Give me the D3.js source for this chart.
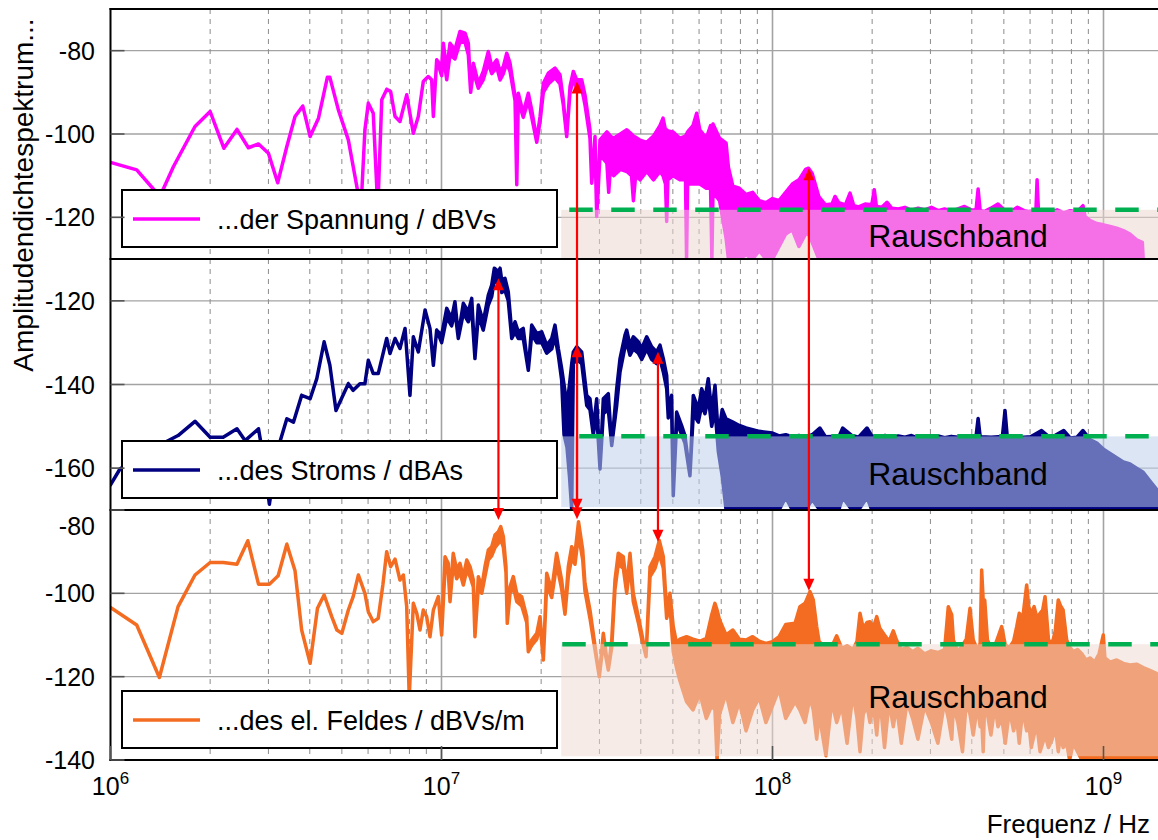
<!DOCTYPE html>
<html>
<head>
<meta charset="utf-8">
<script src="https://cdn.jsdelivr.net/npm/d3@7"></script>
<style>
  body { margin: 0; background: #fff; }
  svg { display: block; }
  text { font-family: "Liberation Sans", Arial, sans-serif; fill: #000; }
</style>
</head>
<body>
<svg id="chart" width="1158" height="840"></svg>
<script>
// ---- data -------------------------------------------------------------
// Rows: [frequency in MHz, upper value in dB, lower value in dB (optional)].
// Where the spectrum is dense, the two values give the envelope of the trace.

const spannung = [
  [1.00,-106.8],[1.20,-108.6],[1.41,-115],[1.55,-107.8],[1.80,-98.2],[2.00,-94.6],[2.20,-103.4],
  [2.41,-98.9],[2.61,-103.3],[2.80,-102.4],[3.00,-104.6],[3.20,-111.7],[3.41,-103],[3.61,-95.8],
  [3.81,-93.3],[4.01,-100.6],[4.25,-96.2],[4.52,-86.4],[4.60,-86.4],[4.88,-94.2],[5.23,-101.4],
  [5.71,-118],[5.87,-99],[6.01,-92.6],[6.22,-95],[6.42,-118],[6.60,-91.8],[6.83,-89.3],[7.02,-89.8],
  [7.24,-95.8],[7.49,-97],[7.85,-90.6],[8.22,-99.8],[8.51,-95.8],[8.81,-87.4],[9.12,-86.2],[9.34,-87],
  [9.45,-95.8],[9.67,-82.2],
  [10.01,-83.8,-86],[10.13,-78.2,-81],[10.37,-84.6,-87],[10.61,-78.2,-81],[10.98,-79.8,-82],
  [11.37,-75.4,-78],[11.78,-75.8,-78],[12.05,-78.2,-81],[12.25,-89,-90],[12.48,-83,-85],
  [12.92,-87.8,-89],[13.37,-85,-87],[13.85,-80.2,-83],[14.18,-83.8,-85.5],[14.69,-82.2,-84],
  [15.03,-85,-87],[15.38,-83.8,-85.5],[15.74,-80.6,-83],[16.11,-83,-85],[16.68,-91,-92],
  [16.88,-112.2],[17.06,-90.2,-92],[17.66,-95,-96],[18.29,-90.2,-92],[18.73,-94.2,-96],
  [19.40,-101.4,-102],[19.85,-95.8,-97],[20.31,-87.8,-90],[21.02,-85.4,-88],[22.02,-84.2,-86.5],
  [22.80,-85.8,-88],[23.33,-91.8,-93],[23.89,-100.6],[24.45,-88.6,-90],[25.02,-85,-87],
  [25.62,-87,-89],[26.52,-87,-89],[27.13,-90.6,-93],[28.09,-99,-101],[28.43,-111.8],
  [29.09,-100.6,-103],[29.44,-119.8],[30.12,-101.4,-105],
  [31.6,-99.5,-107],[32.0,-100,-114],[32.4,-100.5,-108],[33.1,-101,-110],[34.7,-100,-108.5],
  [36.3,-99,-109],[37.5,-100,-110],[38.0,-100.5,-116],[38.6,-100.8,-110],[39.8,-101.5,-111],
  [41.7,-102,-109],[43.7,-100.5,-111],[45.7,-98,-109],[46.7,-96.2,-110],[47.5,-99,-112],
  [47.9,-99,-121],[48.3,-99.3,-111],[50.1,-99.5,-110],[52.5,-101,-111],[54.6,-100.5,-111],
  [55.0,-100,-130],[55.4,-99.5,-112],[57.5,-98,-112],[59.0,-95,-112],[60.3,-99,-112],
  [63.1,-101,-113],[65.0,-98,-113],[65.6,-98.5,-130],[66.1,-97.6,-114],[69.2,-101,-116],
  [72.4,-102.2,-125],[73.6,-108,-130],[75.9,-112.5,-130],[79.4,-113,-130],[83.2,-114.5,-129],[87.1,-114,-130],
  [91.2,-116,-128],[95.5,-116.5,-130],[100,-115.5,-130],[104.7,-116,-127],[109.6,-114,-124],
  [114.8,-112,-123],[120.2,-111,-127],[125.9,-108.5,-124],[128.5,-108.2,-124],[131.8,-109.5,-126],
  [138,-115,-130],[144.5,-117,-130],[151.4,-116.8,-130],[154.5,-115,-130],[158.5,-116.5,-130],
  [166,-117,-130],[171.5,-114.2,-130],[176,-117.2,-130],[182,-117.5,-130],[190.5,-116.8,-130],
  [199.5,-117,-130],[203,-113.4,-130],[206,-117.4,-130],[214,-117.6,-130],[221.8,-116.4,-130],
  [229.1,-117.8,-130],[239.9,-118,-130],[251.2,-117.6,-130],[263,-118.3,-130],[275.4,-117.8,-130],
  [288.4,-118.2,-130],[302,-117.6,-130],[316.2,-118.4,-130],[331.1,-118,-130],[346.7,-118.5,-130],
  [363.1,-118,-130],[380.2,-117.4,-130],[398.1,-118.2,-130],[412,-118.3,-130],[418,-113.2,-130],
  [424,-118.4,-130],[436.5,-118.6,-130],[457.1,-117.8,-130],[480,-116.8,-130],[501.2,-118.2,-130],
  [524.8,-118.6,-130],[549.5,-117.6,-130],[575.4,-118.4,-130],[602.6,-118.7,-130],[625,-118.3,-130],
  [630,-111,-130],[636,-118.5,-130],[660.7,-118.5,-130],[691.8,-118.8,-130],[724.4,-118.2,-130],
  [758.6,-118.9,-130],[794.3,-118.4,-130],[831.8,-118.7,-130],[867,-117.2,-130],[880,-119.8,-130],
  [912,-120.8,-130],[955,-121.5,-130],[1000,-121.8,-130],[1047,-122.2,-130],[1096,-122.6,-130],
  [1148,-123.2,-130],[1202,-124,-130],[1259,-125.4,-130],[1310,-126,-130],[1318,-130,-130]
];

const strom = [
  [1.00,-164],[1.068,-160.2],[1.27,-156.3],[1.60,-152.2],[1.80,-148.8],[2.00,-152.6],[2.19,-152.6],
  [2.41,-150.6],[2.55,-153.4],[2.80,-150.6],[2.89,-157],[3.02,-168.6],[3.18,-156.2],[3.41,-148.2],
  [3.57,-149],[3.78,-142.6],[4.01,-143.4],[4.20,-138.6],[4.42,-129.8],[4.60,-135.4],[4.80,-146.2],
  [5.23,-139.8],[5.41,-141.4],[5.67,-139.8],[5.87,-139.8],[6.01,-134.2],[6.22,-137.4],[6.44,-137.4],
  [6.83,-129],[6.99,-132.6],[7.24,-129],[7.49,-131.4],[7.76,-126.6],[8.03,-142.6],[8.22,-128.6],
  [8.51,-132.2],[8.92,-122.2],[9.23,-126.6],[9.45,-135.4],[9.67,-127],
  [10.01,-128.2,-130],[10.37,-121.8,-124],[10.73,-124.2,-126],[10.98,-120.2,-122.5],[11.24,-128.2,-129],
  [11.64,-120.6,-123],[12.05,-122.6,-125],[12.34,-119.4,-122],[12.62,-133.8],[12.92,-121,-123.5],
  [13.37,-125,-127],[13.85,-118.6,-121],[14.18,-116.2,-119],[14.44,-112.2,-115],[14.85,-113,-116],
  [15.03,-112.2,-115],[15.20,-115,-118],[15.55,-114.6,-117.5],[15.91,-117.8,-120],[16.30,-127.4,-129],
  [16.68,-125,-127.5],[17.06,-127.4,-129],[17.66,-126.6,-129],[18.29,-136.6],[18.73,-125.8,-128],
  [19.40,-127.8,-130],[20.08,-127.4,-130],[20.79,-130.6,-132.5],[21.53,-129,-131.5],[22.02,-125.8,-128.5],
  [22.54,-131.4,-133],[23.07,-136.2,-139],[23.45,-140,-152],[23.94,-145,-155],[24.36,-140,-162],
  [24.74,-135,-170],[25.02,-132.2,-135],[25.62,-131,-134],[26.52,-132.2,-135],[27.46,-142.6,-145],
  [28.09,-143.4,-146],[28.74,-150.6,-152],[29.44,-143.4,-147],[30.12,-160.2],[30.82,-143.4,-147],
  [31.91,-142.2,-146],[32.68,-154.6],[33.83,-141,-145],[34.62,-133.8,-137],[35.84,-128.2,-131],
  [36.27,-127,-130],[37.11,-130.6,-133],[37.97,-128.6,-131.5],[39.32,-129.8,-132.5],[40.26,-131.4,-134],
  [41.69,-128.6,-131.5],[43.15,-131,-134],[44.67,-132.2,-135],[45.72,-130.6,-134],[46.79,-133.8,-137],
  [47.89,-137.8,-141],[48.43,-145.8,-148],[49.58,-142.6,-146],[50.14,-166.6],[51.33,-146.6,-149],
  [53.15,-149.8,-152],[54.38,-152.2,-154],[56.31,-161.8],[57.64,-142.6,-147],[59.68,-145.8,-149],
  [61.11,-141,-145],[62.53,-143.4,-147],[63.97,-138.6,-143],[65.51,-146.6,-150],[67.04,-140.2,-146],
  [68.60,-152.2,-156],[70.5,-146,-162],[72.4,-148.2,-170],[75.9,-149,-170],[79.4,-149.8,-170],
  [83.2,-150.4,-170],[87.1,-150.8,-170],[91.2,-151.2,-170],[95.5,-151.4,-170],[100,-151.6,-170],
  [104.7,-152.3,-170],[109.6,-152,-167],[114.8,-152.5,-170],[120.2,-152.2,-170],[125.9,-152.6,-170],
  [131.8,-152,-167.5],[139,-150.4,-170],[144.5,-152.5,-170],[151.4,-152.4,-170],[158.5,-152.6,-170],
  [163,-150.4,-167],[173.8,-152.2,-170],[182,-152.6,-170],[193,-150.4,-167],[199.5,-152.3,-170],
  [208.9,-152.6,-170],[218.8,-152.2,-170],[229.1,-152.7,-170],[239.9,-152.3,-170],[251.2,-152.6,-170],
  [263,-152.2,-170],[275.4,-152.8,-170],[288.4,-152.4,-170],[302,-152.6,-170],[316.2,-152.3,-170],
  [331.1,-152.7,-170],[346.7,-152.4,-170],[363.1,-152.6,-170],[380.2,-152.3,-170],[398.1,-152.6,-170],
  [412,-152.4,-170],[418,-148.1,-170],[424,-152.5,-170],[457.1,-152.6,-170],[495,-152.4,-170],
  [504,-146.2,-170],[512,-152.5,-170],[549.5,-152.7,-170],[602.6,-152.5,-170],[650,-151,-170],
  [691.8,-152.8,-170],[758,-151,-170],[794.3,-152.8,-170],[831.8,-152.6,-170],[867,-151,-170],
  [912,-153.2,-170],[955,-154,-170],[1000,-155.5,-170],[1047,-156.5,-170],[1096,-157.5,-170],
  [1148,-158.5,-170],[1202,-159,-170],[1259,-160,-170],[1318,-161,-170],[1380,-163,-170],
  [1445,-165,-170],[1460,-166,-170]
];

const feld = [
  [1.00,-103.4],[1.20,-107.6],[1.405,-120.2],[1.60,-103.2],[1.80,-95.6],[2.00,-92.6],[2.19,-92.6],
  [2.41,-93],[2.60,-87.4],[2.80,-97.8],[3.02,-97.8],[3.21,-95.8],[3.41,-88.2],[3.61,-94.6],
  [3.78,-108.8],[4.01,-116.8],[4.22,-103.6],[4.42,-100.4],[4.66,-105.6],[4.83,-108.8],[5.00,-109.6],
  [5.23,-104],[5.41,-100.8],[5.61,-95.6],[5.87,-100],[6.01,-104.4],[6.22,-106.8],[6.44,-106],
  [6.65,-98],[6.83,-90],[7.02,-93.6],[7.24,-91.8],[7.49,-96.8],[7.67,-95.6],[7.85,-103.2],
  [7.99,-125],[8.22,-102.4],[8.42,-104.8],[8.61,-108.8],[8.81,-104],[9.02,-105.6],[9.23,-110.4],
  [9.45,-104],[9.78,-100.8],
  [10.01,-108.8,-110],[10.25,-91.2,-94],[10.48,-92.8,-95],[10.61,-100.8,-102],[10.85,-90.4,-93],
  [11.12,-94.4,-96.5],[11.37,-92.8,-95],[11.64,-96,-98],[11.92,-92,-94.5],[12.20,-93.6,-96],
  [12.48,-96.8,-98.5],[12.62,-110.4],[12.92,-96,-98.5],[13.23,-98.4,-100],[13.53,-93.6,-96],
  [13.85,-89.6,-92],[14.18,-88.8,-91],[14.51,-86,-89],[14.85,-85.2,-88],[15.10,-84,-87],
  [15.38,-86.4,-89],[15.66,-93.6,-95],[15.80,-107.2],[16.11,-98.4,-100],[16.48,-96,-98.5],
  [16.88,-100,-102],[17.47,-100.8,-103],[18.09,-105.6,-107],[18.29,-114],[18.73,-111.2,-112.5],
  [19.40,-109.6,-111],[19.85,-105.6,-107.5],[20.31,-116],[20.79,-95.2,-98],[21.53,-99.2,-101],
  [22.28,-90.4,-93],[23.07,-96.8,-99],[23.61,-104,-105],[24.16,-93.6,-96],[24.74,-88.8,-91.5],
  [25.31,-90.4,-93],[25.94,-82.8,-86],[26.71,-89.6,-92],[27.13,-97.6,-99.5],[28.09,-104,-106],
  [28.74,-109.6,-111],[29.97,-120],[30.82,-109.6,-112],[31.91,-118.4],[32.68,-111.2,-113],
  [33.43,-96.8,-99],[34.20,-90.4,-93],[35.42,-91.2,-94],[36.27,-98.4,-100],[37.11,-90.4,-93],
  [37.97,-100,-102],[39.32,-105.6,-107],[40.26,-109.6,-111],[41.49,-115.2],[42.66,-93.6,-96],
  [44.16,-91.2,-94],[45.5,-87.3,-90.5],[46.79,-91.2,-94],[47.89,-104,-106],[49.0,-100,-103],
  [50.14,-108,-114],[51.33,-112,-118],
  [52.5,-111,-121],[55.0,-110.4,-126],[57.5,-111,-128],[60.3,-111.5,-124],[63.1,-110.8,-130],
  [65.5,-105.2,-127],[67.0,-102.4,-128],[68.0,-104,-140],[69.2,-106.4,-129],[72.4,-110,-124],
  [75.9,-108.8,-131],[79.4,-111,-126],[83.2,-111.2,-133],[87.1,-110.4,-128],[91.2,-111.5,-125],
  [95.5,-112,-131],[100,-111.6,-127],[104.7,-110.4,-123],[109.6,-107.5,-130],[117,-107.2,-126],
  [121,-103.2,-128],[125.4,-102.4,-131],[129.8,-99.6,-125],[132.8,-101.6,-128],[136,-108,-135],
  [138.3,-111.6,-129],[145,-113,-139],[151,-112.8,-126],[156.3,-110.2,-131],[162,-113.2,-127],
  [168,-112.6,-136],[175,-113.5,-124],[180,-111.5,-130],[183.8,-104.8,-138],[188,-108.4,-129],
  [193,-107,-127],[197,-106.8,-131],[202,-108,-127],[206.5,-105.6,-134],[211,-108.4,-125],
  [218,-110,-137],[225,-111.5,-126],[231.7,-109,-132],[237,-111.2,-127],[245,-113.5,-136],
  [255,-113,-126],[265,-114,-130],[275,-113.2,-135],[288,-114.5,-127],[302,-113.8,-131],
  [316,-114.2,-136],[331,-113.5,-126],[339.7,-103.2,-130],[348,-105.2,-135],[352,-111.2,-127],
  [363,-114,-131],[375,-112.5,-138],[385,-111,-126],[395,-103.6,-129],[404,-111.2,-134],
  [416,-113.5,-127],[424,-112,-132],[428.5,-94.4,-130],[433,-101.6,-138],[437.7,-101.6,-126],
  [446,-111.2,-129],[457,-113,-134],[470,-112.5,-127],[480,-110.5,-132],[492.5,-108,-130],
  [505,-112.4,-136],[520,-113,-128],[535,-111.5,-133],[546.8,-108,-130],[556.5,-104.8,-136],
  [570,-106,-128],[586,-98,-133],[594.5,-103.2,-131],[605,-105,-137],[617,-103.2,-134],
  [630,-106,-132],[643,-104.8,-138],[655,-104,-136],[666,-100.8,-134],[682,-111.2,-137],
  [700,-112,-135],[715,-109,-132],[730,-101.6,-138],[742,-103,-134],[755,-104,-137],
  [774,-111.2,-136],[790,-112.8,-140],[810,-114,-136],[835,-113.5,-138],[860,-114.5,-140],
  [885,-116,-140],[912,-115.5,-140],[940,-116.5,-140],[970,-114.5,-140],[998.6,-110,-140],
  [1010,-115.5,-140],[1047,-116.5,-140],[1096,-116,-140],[1148,-116.8,-140],[1202,-117.2,-140],
  [1259,-117,-140],[1318,-117.8,-140],[1380,-118.5,-140],[1445,-119.2,-140],[1460,-119.5,-140]
];

const legendLabels = ["...der Spannung / dBVs", "...des Stroms / dBAs", "...des el. Feldes / dBVs/m"];
const yDomains = [[-130, -70], [-170, -110], [-140, -80]];
const yTickValues = [[-80, -100, -120], [-120, -140, -160], [-80, -100, -120, -140]];
const noiseLevels = [-118.2, -152.4, -112.2];     // dashed threshold per panel
const noiseFloors = [-129.8, -169.3, -139.1];     // lower edge of the noise band
const noiseBandStartHz = 2.3e7;
const noiseLabel = "Rauschband";
const noiseLabelValues = [-127.0, -164.0, -127.6];
const decadeTicks = [1e6, 1e7, 1e8, 1e9];
const decadeExponents = ["6", "7", "8", "9"];
const xTitle = "Frequenz / Hz";
const yTitle = "Amplitudendichtespektrum...";
// arrows: [MHz, from panel, from dB, to panel, to dB]
const arrows = [
  [14.86, 1, -114.6, 2, -82.4],
  [25.67, 0, -87.4, 1, -170.2],
  [25.67, 1, -130.6, 2, -82.2],
  [45.08, 1, -132.2, 2, -87.6],
  [128.8, 0, -108.2, 2, -99.4]
];

// ---- layout & styles ---------------------------------------------------
const W = 1158, H = 840;
const left = 110.5;
const decadePx = 331;
const fMax = 1.46e9;
const panelTop = [9, 259, 510];
const panelBottom = [259, 510, 760];
const seriesColors = ["#ff00ff", "#000080", "#f36c21"];
const bandFill = ["rgb(236,213,208)", "rgb(189,207,233)", "rgb(237,216,208)"];
const bandOpacity = [0.525, 0.54, 0.51];
const dashOffsets = [34, 24, 41];
const series = [spannung, strom, feld];

const svg = d3.select("#chart");
const x = d3.scaleLog().domain([1e6, fMax]).range([left, left + decadePx * Math.log10(fMax / 1e6)]);
const yScales = yDomains.map((dom, i) => d3.scaleLinear().domain(dom).range([panelBottom[i], panelTop[i]]));

const defs = svg.append("defs");
yScales.forEach((y, i) => {
  defs.append("clipPath").attr("id", "clip" + i)
    .append("rect").attr("x", left).attr("y", panelTop[i])
    .attr("width", W - left).attr("height", panelBottom[i] - panelTop[i]);
});

const gridG = svg.append("g");

// horizontal grid lines
yScales.forEach((y, i) => {
  gridG.selectAll(null).data(yTickValues[i]).enter().append("line")
    .attr("x1", left).attr("x2", W)
    .attr("y1", d => y(d)).attr("y2", d => y(d))
    .attr("stroke", "#a3a3a3").attr("stroke-width", 1.4);
});

// vertical grid lines: decades solid, intermediate multiples dashed
const minorFreqs = [];
for (const dec of [1e6, 1e7, 1e8, 1e9]) {
  for (let m = 2; m <= 9; m++) if (dec * m <= fMax) minorFreqs.push(dec * m);
}
gridG.selectAll(null).data(minorFreqs).enter().append("line")
  .attr("x1", d => x(d)).attr("x2", d => x(d))
  .attr("y1", panelTop[0]).attr("y2", panelBottom[2])
  .attr("stroke", "#8c8c8c").attr("stroke-width", 1).attr("stroke-dasharray", "5,5");
gridG.selectAll(null).data(decadeTicks.slice(1)).enter().append("line")
  .attr("x1", d => x(d)).attr("x2", d => x(d))
  .attr("y1", panelTop[0]).attr("y2", panelBottom[2])
  .attr("stroke", "#a3a3a3").attr("stroke-width", 1.6);

// spectra, noise band overlays and thresholds
series.forEach((data, i) => {
  const y = yScales[i];
  const g = svg.append("g").attr("clip-path", `url(#clip${i})`);
  const area = d3.area()
    .x(d => x(d[0] * 1e6))
    .y1(d => y(d[1]))
    .y0(d => y(d.length > 2 ? d[2] : d[1]));
  g.append("path").datum(data).attr("d", area)
    .attr("fill", seriesColors[i]).attr("stroke", seriesColors[i])
    .attr("stroke-width", 3.5).attr("stroke-linejoin", "round");

  const bx = x(noiseBandStartHz);
  g.append("rect")
    .attr("x", bx).attr("y", y(noiseLevels[i]))
    .attr("width", W - bx).attr("height", y(noiseFloors[i]) - y(noiseLevels[i]))
    .attr("fill", bandFill[i]).attr("fill-opacity", bandOpacity[i]);

  g.append("line")
    .attr("x1", bx).attr("x2", W)
    .attr("y1", y(noiseLevels[i])).attr("y2", y(noiseLevels[i]))
    .attr("stroke", "#00b050").attr("stroke-width", 4.5)
    .attr("stroke-dasharray", "23.5,18.5").attr("stroke-dashoffset", dashOffsets[i]);

  // legend
  const lb = panelBottom[i] - 69;
  const lg = svg.append("g");
  lg.append("rect").attr("x", 122).attr("y", lb).attr("width", 435).attr("height", 57)
    .attr("fill", "#fff").attr("stroke", "#000").attr("stroke-width", 2);
  lg.append("line").attr("x1", 133).attr("x2", 200).attr("y1", lb + 29).attr("y2", lb + 29)
    .attr("stroke", seriesColors[i]).attr("stroke-width", 3.5);
  lg.append("text").attr("x", 217).attr("y", lb + 38.5)
    .attr("font-size", 27).text(legendLabels[i]);

  svg.append("text").attr("x", x(2e8) - 4).attr("y", y(noiseLabelValues[i]))
    .attr("font-size", 32).text(noiseLabel);
});

// panel frames
const frame = svg.append("g").attr("stroke", "#000").attr("stroke-width", 2);
[panelTop[0], panelTop[1], panelTop[2], panelBottom[2]].forEach(yy => {
  frame.append("line").attr("x1", left - 1).attr("x2", W).attr("y1", yy).attr("y2", yy);
});
frame.append("line").attr("x1", left).attr("x2", left).attr("y1", panelTop[0] - 1).attr("y2", panelBottom[2] + 1);

// y ticks and labels
yScales.forEach((y, i) => {
  const g = svg.append("g");
  g.selectAll(null).data(yTickValues[i]).enter().append("line")
    .attr("x1", left).attr("x2", left + 14)
    .attr("y1", d => y(d)).attr("y2", d => y(d))
    .attr("stroke", "#555").attr("stroke-width", 1.6);
  g.selectAll(null).data(yTickValues[i]).enter().append("text")
    .attr("x", 95).attr("text-anchor", "end").attr("font-size", 25)
    .attr("y", d => y(d) + (d === yDomains[i][1] ? 16 : 0))
    .attr("dy", "0.36em")
    .text(d => d3.format("d")(d).replace("−", "-"));
});

// x ticks and labels
const xg = svg.append("g");
xg.selectAll(null).data(decadeTicks).enter().append("line")
  .attr("x1", d => x(d)).attr("x2", d => x(d))
  .attr("y1", panelBottom[2]).attr("y2", panelBottom[2] - 14)
  .attr("stroke", "#555").attr("stroke-width", 1.6);
const xt = xg.selectAll(null).data(decadeTicks).enter().append("text")
  .attr("x", d => x(d)).attr("y", 795).attr("text-anchor", "middle").attr("font-size", 25);
xt.append("tspan").text("10");
xt.append("tspan").attr("font-size", 17).attr("dy", -11).text((d, i) => decadeExponents[i]);

svg.append("text").attr("x", 1150).attr("y", 833).attr("text-anchor", "end")
  .attr("font-size", 26).text(xTitle);
svg.append("text").attr("transform", "translate(33,195) rotate(-90)")
  .attr("text-anchor", "middle").attr("font-size", 28).text(yTitle);

// red arrows linking corresponding peaks
const ag = svg.append("g");
arrows.forEach(([mhz, p0, v0, p1, v1]) => {
  const ax = x(mhz * 1e6);
  const yTop = yScales[p0](v0), yBot = yScales[p1](v1);
  ag.append("line").attr("x1", ax).attr("x2", ax).attr("y1", yTop + 8).attr("y2", yBot - 8)
    .attr("stroke", "#ff0000").attr("stroke-width", 2.2);
  ag.append("path").attr("d", `M${ax},${yTop} L${ax - 5.5},${yTop + 12} L${ax + 5.5},${yTop + 12} Z`)
    .attr("fill", "#ff0000");
  ag.append("path").attr("d", `M${ax},${yBot} L${ax - 5.5},${yBot - 12} L${ax + 5.5},${yBot - 12} Z`)
    .attr("fill", "#ff0000");
});
</script>
</body>
</html>
